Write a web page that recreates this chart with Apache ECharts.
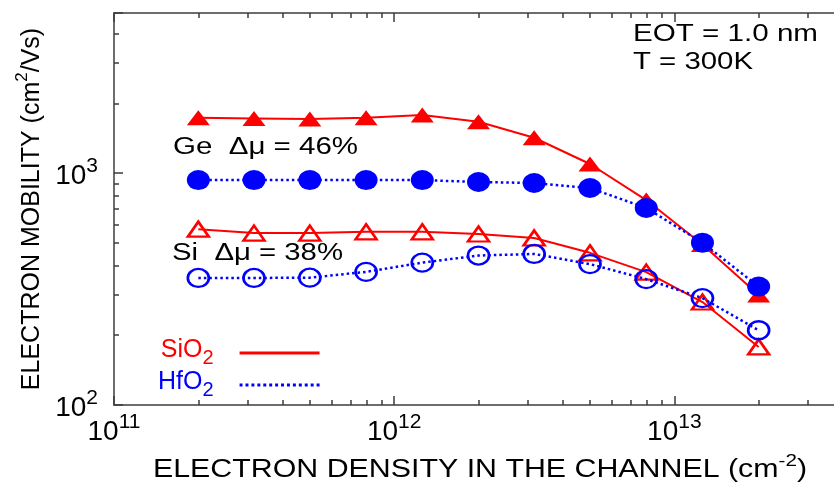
<!DOCTYPE html>
<html><head><meta charset="utf-8">
<script src="https://cdn.jsdelivr.net/npm/echarts@6/dist/echarts.min.js"></script>
<style>html,body{margin:0;padding:0;background:#fff}#c{width:834px;height:485px}</style>
</head><body><div id="c"></div>
<script>
// ---- data ----
const density = [2.0e11, 3.16e11, 5.0e11, 7.94e11, 1.26e12, 2.0e12, 3.16e12, 5.0e12, 7.94e12, 1.26e13, 2.0e13];
const geSiO2 = [1731, 1721, 1709, 1731, 1778, 1664, 1420, 1094, 765, 492, 298];
const geHfO2 = [933, 933, 933, 933, 933, 915, 906, 862, 707, 501, 324];
const siSiO2 = [573, 551, 551, 558, 558, 546, 525, 453, 374, 278, 178];
const siHfO2 = [353, 353, 354, 375, 411, 441, 448, 405, 349, 289, 210];
const xTickValues = [1e11, 1e12, 1e13];
const xTickExps = ['11', '12', '13'];
const yTickValues = [1e2, 1e3];
const yTickExps = ['2', '3'];
const legendNames = ['SiO2', 'HfO2'];

// ---- style ----
const FONT = '"Liberation Sans", Arial, Helvetica, sans-serif';
const RED = '#ff0000', BLUE = '#0000ff', AXIS = '#3c3c3c';
const ellipse = 'path://M0,50A50,50,0,1,1,100,50A50,50,0,1,1,0,50Z';
let dots = 'path://';
for (let i = 0; i < 14; i++) dots += 'M' + (i * 6) + ',0h3v3h-3z';

const ctx = document.createElement('canvas').getContext('2d');
function tw(text, size) { ctx.font = size + 'px ' + FONT; return ctx.measureText(text).width; }

function pairs(ys) { return density.map((x, i) => [x, ys[i]]); }
function expFormatter(values, exps) {
  return function (v) {
    for (let i = 0; i < values.length; i++) {
      if (Math.abs(v - values[i]) < values[i] * 1e-6) return '{b|10}{s|' + exps[i] + '}';
    }
    return '';
  };
}
const tickRich = {
  b: { fontSize: 28, fontFamily: FONT, color: '#000', padding: [6, 0, 0, 0], verticalAlign: 'bottom' },
  s: { fontSize: 21, fontFamily: FONT, color: '#000', verticalAlign: 'top' }
};
const lineStyleAxis = { color: AXIS, width: 1.5 };

function xAxisDef(top) {
  return {
    type: 'log', logBase: 10, min: 1e11, max: 4e13, gridIndex: 0,
    position: top ? 'top' : 'bottom',
    axisLine: { show: true, onZero: false, lineStyle: lineStyleAxis },
    axisTick: { show: true, inside: true, length: 9, lineStyle: lineStyleAxis },
    minorTick: { show: true, splitNumber: 9, length: 5, lineStyle: lineStyleAxis },
    axisLabel: top ? { show: false } : { show: true, margin: 7, formatter: expFormatter(xTickValues, xTickExps), rich: tickRich },
    splitLine: { show: false }, minorSplitLine: { show: false }
  };
}

function textEl(text, left, cy, size, width) {
  return {
    type: 'text', x: left, y: cy, scaleX: width / tw(text, size), silent: true,
    style: { text: text, fontSize: size, fontFamily: FONT, fill: '#000', align: 'left', verticalAlign: 'middle' }
  };
}

const xTitleMain = 'ELECTRON DENSITY IN THE CHANNEL (cm';
const xTitleW = tw(xTitleMain, 25) + tw('-2', 17) + tw(')', 25);

const option = {
  animation: false,
  textStyle: { fontFamily: FONT },
  grid: { left: 114, top: 13, width: 729, height: 392, containLabel: false, outerBoundsMode: 'none' },
  xAxis: [xAxisDef(false), xAxisDef(true)],
  yAxis: [{
    type: 'log', logBase: 10, min: 100, max: 4900,
    axisLine: { show: true, onZero: false, lineStyle: lineStyleAxis },
    axisTick: { show: true, inside: true, length: 9, lineStyle: lineStyleAxis },
    minorTick: { show: true, splitNumber: 9, length: 5, lineStyle: lineStyleAxis },
    axisLabel: { show: true, margin: 16, formatter: expFormatter(yTickValues, yTickExps), rich: tickRich },
    splitLine: { show: false }, minorSplitLine: { show: false },
    name: '{t|ELECTRON MOBILITY (cm}{s|2}{t|/Vs)}',
    nameLocation: 'middle', nameRotate: 90, nameGap: 62,
    nameTextStyle: {
      rich: {
        t: { fontSize: 25, fontFamily: FONT, color: '#000', padding: [5, 0, 0, 0], verticalAlign: 'bottom' },
        s: { fontSize: 17, fontFamily: FONT, color: '#000', verticalAlign: 'top' }
      }
    }
  }],
  legend: {
    orient: 'vertical', left: 158, top: 338, padding: 0, itemGap: 2,
    itemWidth: 80, itemHeight: 3, align: 'right', selectedMode: false,
    data: [
      { name: legendNames[0], icon: 'rect', itemStyle: { color: RED, borderWidth: 0 } },
      { name: legendNames[1], icon: dots, itemStyle: { color: BLUE, borderWidth: 0 } }
    ],
    formatter: function (n) { return n === legendNames[0] ? '{r|SiO}{rs|2}' : '{b|HfO}{bs|2}'; },
    textStyle: {
      rich: {
        r: { color: RED, fontSize: 25, fontFamily: FONT, verticalAlign: 'top' },
        rs: { color: RED, fontSize: 20, fontFamily: FONT, verticalAlign: 'bottom', padding: [10, 21, 0, 0] },
        b: { color: BLUE, fontSize: 25, fontFamily: FONT, verticalAlign: 'top' },
        bs: { color: BLUE, fontSize: 20, fontFamily: FONT, verticalAlign: 'bottom', padding: [10, 21, 0, 0] }
      }
    }
  },
  graphic: [
    {
      type: 'text', x: 153, y: 468, scaleX: 654 / xTitleW, silent: true,
      style: {
        text: '{t|' + xTitleMain + '}{s|-2}{t|)}', fill: '#000', align: 'left', verticalAlign: 'middle',
        rich: {
          t: { fontSize: 25, fontFamily: FONT, fill: '#000', padding: [5, 0, 0, 0], verticalAlign: 'bottom' },
          s: { fontSize: 17, fontFamily: FONT, fill: '#000', verticalAlign: 'top' }
        }
      }
    },
    textEl('EOT = 1.0 nm', 633, 35, 23, 185),
    textEl('T = 300K', 633, 63, 23, 120),
    textEl('Ge  \u0394\u03bc = 46%', 173, 148, 23, 185),
    textEl('Si  \u0394\u03bc = 38%', 172, 254, 23, 171)
  ],
  series: [
    {
      name: legendNames[0], type: 'line', data: pairs(siSiO2), z: 2,
      symbol: 'triangle', symbolSize: [21, 15],
      lineStyle: { color: RED, width: 2 },
      itemStyle: { color: 'rgba(255,255,255,0)', borderColor: RED, borderWidth: 2.5 }
    },
    {
      name: legendNames[1], type: 'line', data: pairs(siHfO2), z: 3,
      symbol: ellipse, symbolSize: [21, 18],
      lineStyle: { color: BLUE, width: 2.5, type: [2.5, 3] },
      itemStyle: { color: 'rgba(255,255,255,0)', borderColor: BLUE, borderWidth: 2.5 }
    },
    {
      name: legendNames[0], type: 'line', data: pairs(geSiO2), z: 4,
      symbol: 'triangle', symbolSize: [23, 15],
      lineStyle: { color: RED, width: 2 },
      itemStyle: { color: RED }
    },
    {
      name: legendNames[1], type: 'line', data: pairs(geHfO2), z: 5,
      symbol: ellipse, symbolSize: [23, 20],
      lineStyle: { color: BLUE, width: 2.5, type: [2.5, 3] },
      itemStyle: { color: BLUE }
    }
  ]
};

const chart = echarts.init(document.getElementById('c'), null, { renderer: 'canvas' });
chart.setOption(option);
</script>
</body></html>
